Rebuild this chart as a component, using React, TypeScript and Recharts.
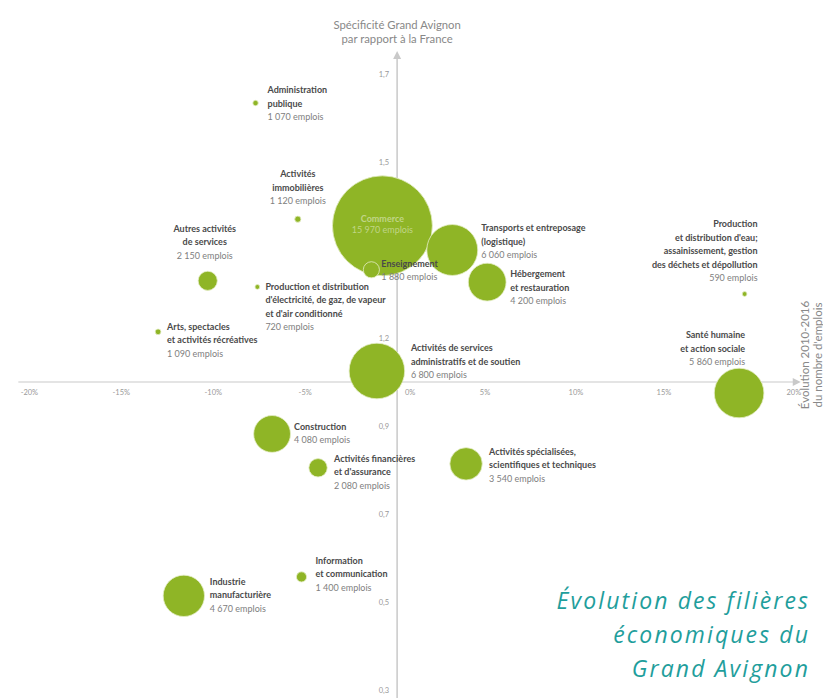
import React from 'react';
import {
    ScatterChart,
    Scatter,
    XAxis,
    YAxis,
    ZAxis,
    ReferenceLine,
    ReferenceDot,
    LabelList,
} from 'recharts';

// filières économiques du Grand Avignon
const sectors = [
    'Administration\npublique',
    'Activités\nimmobilières',
    'Commerce',
    'Autres activités\nde services',
    "Production et distribution\nd'électricité, de gaz, de vapeur\net d'air conditionné",
    'Enseignement',
    'Transports et entreposage\n(logistique)',
    'Hébergement\net restauration',
    "Production\net distribution d'eau;\nassainissement, gestion\ndes déchets et dépollution",
    'Arts, spectacles\net activités récréatives',
    'Activités de services\nadministratifs et de soutien',
    'Santé humaine\net action sociale',
    'Construction',
    "Activités financières\net d'assurance",
    'Activités spécialisées,\nscientifiques et techniques',
    'Information\net communication',
    'Industrie\nmanufacturière',
];
const emplois = [1070, 1120, 15970, 2150, 720, 1880, 6060, 4200, 590, 1090, 6800, 5860, 4080, 2080, 3540, 1400, 4670];
// évolution 2010-2016 du nombre d'emplois (%)
const evolution = [-7.7, -5.4, -0.8, -10.3, -7.6, -1.4, 3.0, 4.9, 18.9, -13.0, -1.1, 18.6, -6.8, -4.3, 3.75, -5.2, -11.6];
// spécificité Grand Avignon par rapport à la France
const specificite = [1.634, 1.37, 1.355, 1.23, 1.216, 1.255, 1.3, 1.227, 1.2, 1.114, 1.025, 0.975, 0.882, 0.805, 0.814, 0.557, 0.514];

const xTicks = [-20, -15, -10, -5, 0, 5, 10, 15, 20];
const yTicks = [0.3, 0.5, 0.7, 0.9, 1.1, 1.5, 1.7];
const yTickLabels = ['0,3', '0,5', '0,7', '0,9', '1,2', '1,5', '1,7'];

const data = sectors.map((name, i) => ({
    name,
    x: evolution[i],
    y: specificite[i],
    emplois: emplois[i],
}));

// label placement, relative to the bubble centre
const labelPlacement: { dx: number; dy: number; anchor: string; inside?: boolean }[] = [
    { dx: 12, dy: -13, anchor: 'start' },
    { dx: 0, dy: -45, anchor: 'middle' },
    { dx: 0, dy: -7, anchor: 'middle', inside: true },
    { dx: -3, dy: -52, anchor: 'middle' },
    { dx: 8, dy: 0, anchor: 'start' },
    { dx: 10, dy: -6, anchor: 'start' },
    { dx: 29, dy: -22, anchor: 'start' },
    { dx: 23, dy: -8, anchor: 'start' },
    { dx: 13, dy: -70, anchor: 'end' },
    { dx: 9, dy: -5, anchor: 'start' },
    { dx: 34, dy: -23, anchor: 'start' },
    { dx: 6, dy: -58, anchor: 'end' },
    { dx: 22, dy: -7, anchor: 'start' },
    { dx: 16, dy: -9, anchor: 'start' },
    { dx: 23, dy: -12, anchor: 'start' },
    { dx: 14, dy: -16, anchor: 'start' },
    { dx: 26, dy: -14, anchor: 'start' },
];
// horizontal shift of some x tick labels, as laid out in the original
const xTickShift: Record<number, number> = { 0: 13, 5: -4, 10: -5, 15: -9, 20: 29 };

const W = 823;
const H = 698;
const MARGIN = { top: 52, right: 3, bottom: 7, left: 10 };
const PLOT_LEFT = MARGIN.left + 1;
const PLOT_BOTTOM = H - MARGIN.bottom - 1;
const X_DOMAIN = [-21, 23];
const Y_DOMAIN = [0.3, 1.75];
const ORIGIN_X = PLOT_LEFT + ((0 - X_DOMAIN[0]) / (X_DOMAIN[1] - X_DOMAIN[0])) * (W - PLOT_LEFT - MARGIN.right);
const ORIGIN_Y = MARGIN.top + ((Y_DOMAIN[1] - 1) / (Y_DOMAIN[1] - Y_DOMAIN[0])) * (PLOT_BOTTOM - MARGIN.top);

const GREEN = '#8fb526';
const AXIS = '#c9c9c9';
const FONT = 'Lato, "Open Sans", sans-serif';

const fmtEmplois = (v: number) => {
    const k = Math.floor(v / 1000);
    const r = v % 1000;
    return k > 0 ? `${k} ${String(r).padStart(3, '0')} emplois` : `${r} emplois`;
};

const XTick = ({ x, payload }: any) => {
    const v = payload.value;
    return (
        <text x={x + (xTickShift[v] ?? 0)} y={ORIGIN_Y + 13} textAnchor="middle" fontSize={7.5} fill="#999" fontFamily={FONT}>
            {`${v}%`}
        </text>
    );
};

const YTick = ({ y, payload }: any) => {
    const i = yTicks.indexOf(payload.value);
    return (
        <text x={ORIGIN_X - 8} y={y + 3} textAnchor="end" fontSize={7.5} fill="#999" fontFamily={FONT}>
            {yTickLabels[i]}
        </text>
    );
};

// ZAxis gives the radius here (sqrt scale)
const Bubble = (p: any) => {
    const r = Math.max(p.size ?? 2, 2.4);
    return <circle cx={p.cx} cy={p.cy} r={r} fill={GREEN} stroke="#e4edc6" strokeWidth={0.8} />;
};

const BubbleLabel = (props: any) => {
    const { viewBox, index } = props;
    if (!viewBox || index == null) return null;
    const cx = viewBox.x + viewBox.width / 2;
    const cy = viewBox.y + viewBox.height / 2;
    const pl = labelPlacement[index];
    const lines = sectors[index].split('\n');
    const all = [...lines, fmtEmplois(emplois[index])];
    const tx = cx + pl.dx;
    return (
        <text x={tx} y={cy + pl.dy} textAnchor={pl.anchor} fontFamily={FONT} fontSize={9}>
            {all.map((t, i) => (
                <tspan
                    key={i}
                    x={tx}
                    dy={i === 0 ? 3 : pl.inside ? 11.5 : 13.5}
                    fontWeight={i < lines.length ? 700 : 400}
                    fill={pl.inside ? 'rgba(255,255,255,0.45)' : i < lines.length ? '#4a4a4a' : '#808080'}
                >
                    {t}
                </tspan>
            ))}
        </text>
    );
};

const arrowRight = (p: any) => (
    <polygon points={`${p.cx - 7},${p.cy - 4} ${p.cx + 1},${p.cy} ${p.cx - 7},${p.cy + 4}`} fill={AXIS} />
);
const arrowUp = (p: any) => (
    <polygon points={`${p.cx - 4},${p.cy + 7} ${p.cx},${p.cy - 1} ${p.cx + 4},${p.cy + 7}`} fill={AXIS} />
);

const App = () => {
    return (
        <div style={{ position: 'absolute', left: 0, top: 0, width: W, height: H, background: '#fff', overflow: 'hidden' }}>
            <ScatterChart width={W} height={H} margin={MARGIN}>
                <XAxis
                    type="number"
                    dataKey="x"
                    domain={X_DOMAIN}
                    ticks={xTicks}
                    interval={0}
                    height={1}
                    axisLine={false}
                    tickLine={false}
                    tick={<XTick />}
                />
                <YAxis
                    type="number"
                    dataKey="y"
                    domain={Y_DOMAIN}
                    ticks={yTicks}
                    interval={0}
                    width={1}
                    axisLine={false}
                    tickLine={false}
                    tick={<YTick />}
                />
                <ZAxis type="number" dataKey="emplois" scale="sqrt" domain={[0, 16000]} range={[-13.8, 50]} />
                <ReferenceLine
                    segment={[{ x: -20.6, y: 1 }, { x: 21.6, y: 1 }]}
                    stroke={AXIS}
                    strokeWidth={1.2}
                    ifOverflow="visible"
                />
                <ReferenceLine
                    segment={[{ x: 0, y: 0.28 }, { x: 0, y: 1.735 }]}
                    stroke={AXIS}
                    strokeWidth={1.5}
                    ifOverflow="visible"
                />
                <ReferenceDot x={21.9} y={1} shape={arrowRight} ifOverflow="visible" />
                <ReferenceDot x={0} y={1.75} shape={arrowUp} ifOverflow="visible" />
                <Scatter data={data} shape={<Bubble />} isAnimationActive={false}>
                    <LabelList dataKey="name" content={<BubbleLabel />} />
                </Scatter>
            </ScatterChart>

            <div
                style={{
                    position: 'absolute',
                    left: ORIGIN_X - 100,
                    top: 18,
                    width: 200,
                    textAlign: 'center',
                    fontFamily: FONT,
                    fontSize: 11.3,
                    lineHeight: '13.5px',
                    color: '#888',
                }}
            >
                Spécificité Grand Avignon
                <br />
                par rapport à la France
            </div>

            <div
                style={{
                    position: 'absolute',
                    left: 811 - 100,
                    top: 355 - 13,
                    width: 200,
                    textAlign: 'center',
                    fontFamily: FONT,
                    fontSize: 11.5,
                    lineHeight: '13px',
                    color: '#888',
                    transform: 'rotate(-90deg)',
                    transformOrigin: '100px 13px',
                }}
            >
                Évolution 2010-2016
                <br />
                du nombre d'emplois
            </div>

            <div
                style={{
                    position: 'absolute',
                    right: 13,
                    top: 583,
                    textAlign: 'right',
                    fontFamily: '"Open Sans", sans-serif',
                    fontStyle: 'italic',
                    fontWeight: 400,
                    fontSize: 23,
                    lineHeight: '34px',
                    letterSpacing: 2.1,
                    color: '#1f9e9c',
                    whiteSpace: 'nowrap',
                }}
            >
                <div>Évolution des filières</div>
                <div>économiques du</div>
                <div>Grand Avignon</div>
            </div>
        </div>
    );
};

export default App;
